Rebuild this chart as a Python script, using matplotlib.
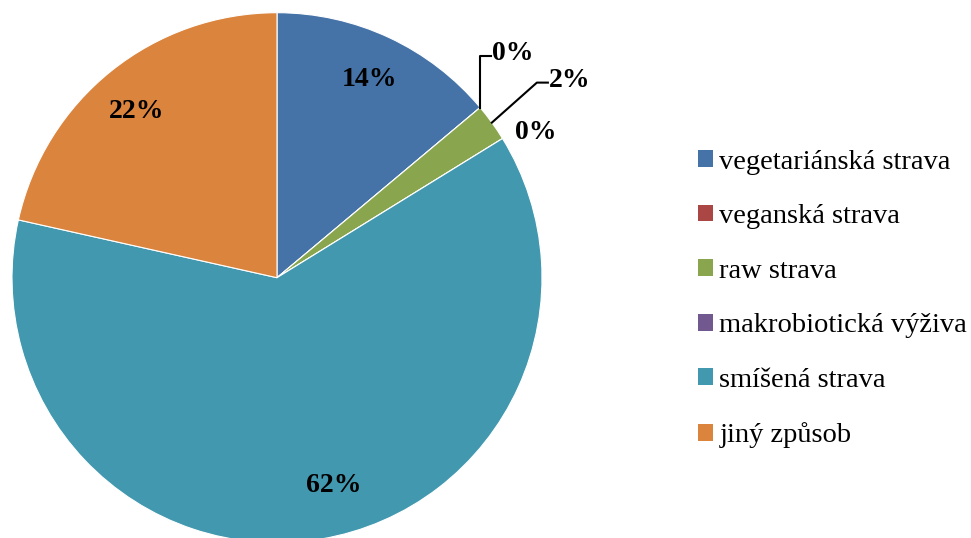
import numpy as np
import matplotlib
matplotlib.use('Agg')
import matplotlib.pyplot as plt
from matplotlib.patches import Patch

categories = ['vegetariánská strava', 'veganská strava', 'raw strava',
              'makrobiotická výživa', 'smíšená strava', 'jiný způsob']
shares = [13.9, 0, 2.3, 0, 62.3, 21.5]
colors = ['#4572A7', '#AA4643', '#89A54E', '#71588F', '#4198AF', '#DB843D']

plt.rcParams['font.family'] = ['Liberation Serif', 'DejaVu Serif']

W, H = 971, 538
fig = plt.figure(figsize=(W / 100, H / 100), dpi=100)
ax = fig.add_axes([0, 0, 1, 1])

cx, cy, R = 277, H - 277.7, 265
ax.pie(shares, colors=colors, startangle=90, counterclock=False,
       center=(cx, cy), radius=R, frame=True,
       wedgeprops=dict(edgecolor='white', linewidth=0.8))
ax.set_xlim(0, W)
ax.set_ylim(0, H)
ax.set_aspect('auto')
ax.axis('off')

# angles of each slice (clockwise from top)
total = sum(shares)
ends = np.cumsum(shares) / total * 360
starts = ends - np.array(shares) / total * 360
mids = 90 - (starts + ends) / 2

def rim(angle_deg, frac=1.0):
    a = np.deg2rad(angle_deg)
    return cx + frac * R * np.cos(a), cy + frac * R * np.sin(a)

FS = 20
lbl = dict(fontsize=FS, fontweight='bold', va='center')
# nudges (px) for the in-slice labels, Excel "best fit" style
nudge = {0: (-1, -1), 4: (20, 9), 5: (-3, -5)}

for i, s in enumerate(shares):
    if s >= 10:
        x, y = rim(mids[i], 0.83)
        dx, dy = nudge.get(i, (0, 0))
        ax.text(x + dx, y + dy, f'{s:.0f}%', ha='center', **lbl)

# small slices: leader lines like the original
# veganská (0%)
x0, y0 = rim(mids[1])
ax.plot([x0, x0, x0 + 11], [y0, y0 + 52, y0 + 52], color='black', lw=1.5)
ax.text(x0 + 12, y0 + 54, f'{shares[1]:.0f}%', ha='left', **lbl)
# raw (2%)
x0, y0 = rim(mids[2])
ax.plot([x0, x0 + 45, x0 + 56], [y0, y0 + 40, y0 + 40], color='black', lw=1.5)
ax.text(x0 + 57, y0 + 42, f'{shares[2]:.0f}%', ha='left', **lbl)
# makrobiotická (0%)
x0, y0 = rim(mids[3])
ax.text(x0 + 12, y0 + 6, f'{shares[3]:.0f}%', ha='left', **lbl)

handles = [Patch(facecolor=c, edgecolor='none') for c in colors]
fig.legend(handles, categories, loc='center left',
           bbox_to_anchor=(687 / W, 1 - 299 / H), frameon=False,
           fontsize=20.5, handlelength=0.53, handleheight=0.53,
           handletextpad=0.21, labelspacing=1.04, borderaxespad=0)

fig.savefig('out.png', dpi=100)
